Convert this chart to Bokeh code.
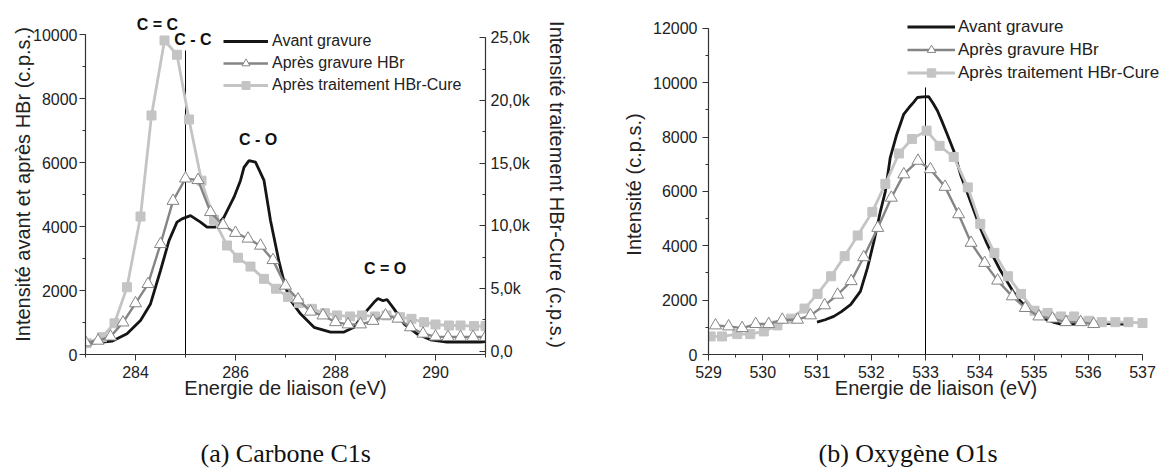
from bokeh.plotting import figure
from bokeh.layouts import row
from bokeh.models import (Range1d, LinearAxis, SingleIntervalTicker, Legend, LegendItem,
                          Label, Title, CustomJSTickFormatter)
from bokeh.embed import file_html
from bokeh.resources import INLINE

# ---------------- data: C1s ----------------
c1s_avant_x = [283.0, 283.25, 283.53, 283.83, 284.1, 284.3, 284.5, 284.67, 284.83, 284.93, 285.1,
               285.3, 285.43, 285.6, 285.77, 285.97, 286.1, 286.17, 286.27, 286.4, 286.57, 286.7,
               286.87, 287.0, 287.1, 287.3, 287.57, 287.9, 288.17, 288.37, 288.57, 288.77, 288.85,
               288.95, 289.03, 289.17, 289.37, 289.63, 289.9, 290.23, 290.63, 290.9, 291.0]
c1s_avant_y = [340, 370, 415, 645, 1060, 1580, 2625, 3560, 4135, 4240, 4340,
               4135, 3980, 3980, 4290, 4915, 5440, 5850, 6060, 6010, 5440, 4190,
               2900, 2100, 1700, 1270, 850, 700, 700, 850, 1270, 1630, 1750,
               1680, 1720, 1425, 960, 645, 460, 385, 385, 385, 400]

c1s_hbr_x = [283.0, 283.25, 283.5, 283.75, 284.0, 284.25, 284.5, 284.75, 285.0, 285.25, 285.5,
             285.75, 286.0, 286.25, 286.5, 286.75, 287.0, 287.25, 287.5, 287.75, 288.0, 288.25,
             288.5, 288.75, 289.0, 289.25, 289.5, 289.75, 290.0, 290.25, 290.5, 290.75, 291.0]
c1s_hbr_y = [380, 430, 560, 1000, 1600, 2200, 3450, 4800, 5500, 5450, 4450,
             4050, 3800, 3620, 3400, 2950, 2150, 1720, 1340, 1220, 1010, 940,
             940, 1050, 1220, 1120, 850, 650, 560, 545, 545, 545, 545]

c1s_cure_x = [283.02, 283.33, 283.58, 283.83, 284.1, 284.32, 284.58, 284.83, 285.07, 285.32, 285.57,
              285.83, 286.05, 286.3, 286.57, 286.81, 287.05, 287.27, 287.53, 287.79, 288.03, 288.29,
              288.53, 288.79, 289.02, 289.29, 289.52, 289.77, 290.0, 290.27, 290.5, 290.77, 291.0]
c1s_cure_y = [640, 1120, 2230, 5100, 10740, 18800, 24780, 23640, 18480, 13600, 10480,
              8430, 7450, 6750, 5770, 4980, 4330, 3850, 3380, 3030, 2850, 2770,
              2850, 2770, 2850, 2710, 2580, 2310, 2130, 2050, 2050, 2000, 2000]

c1s_ref_x = [285.0]
c1s_ref_top = [9500]

c1s_peak_labels = ["C = C", "C - C", "C - O", "C = O"]
c1s_peak_x = [284.44, 285.15, 286.45, 288.99]
c1s_peak_y = [10310, 9840, 6720, 2700]

# ---------------- data: O1s ----------------
o1s_avant_x = [531.0, 531.15, 531.31, 531.45, 531.62, 531.8, 531.93, 532.05, 532.17, 532.26, 532.35,
               532.47, 532.6, 532.7, 532.78, 532.85, 532.95, 533.06, 533.14, 533.22, 533.3, 533.4,
               533.52, 533.65, 533.8, 533.9, 534.01, 534.13, 534.26, 534.38, 534.5, 534.62, 534.75,
               534.87, 534.99, 535.12, 535.24, 535.37, 535.49, 535.62, 535.74, 535.86, 535.98,
               536.1, 536.23, 536.35, 536.47, 536.66]
o1s_avant_y = [1193, 1280, 1403, 1580, 1835, 2326, 3187, 4173, 5280, 6000, 7250,
               8100, 8850, 9100, 9280, 9460, 9480, 9490, 9250, 8970, 8600, 8110,
               7500, 6600, 5800, 5250, 4660, 4100, 3560, 3100, 2700, 2300, 1960,
               1720, 1530, 1380, 1280, 1180, 1120, 1100, 1120, 1150, 1160,
               1130, 1120, 1150, 1120, 1120]

o1s_hbr_x = [529.13, 529.37, 529.62, 529.87, 530.11, 530.36, 530.64, 530.88, 531.14, 531.38,
             531.63, 531.86, 532.12, 532.37, 532.6, 532.86, 533.09, 533.36, 533.61, 533.84,
             534.09, 534.33, 534.6, 534.84, 535.09, 535.34, 535.59, 535.86, 536.1]
o1s_hbr_y = [1070, 1034, 971, 1120, 1120, 1280, 1280, 1440, 1810, 2200,
             2700, 3580, 4660, 5770, 6630, 7130, 6820, 6170, 5160, 4110,
             3370, 2720, 2140, 1710, 1400, 1320, 1190, 1190, 1120]

o1s_cure_x = [529.04, 529.25, 529.53, 529.77, 530.02, 530.27, 530.52, 530.77, 531.01, 531.26, 531.51,
              531.75, 532.02, 532.26, 532.51, 532.75, 533.02, 533.26, 533.52, 533.78, 534.01, 534.27,
              534.52, 534.76, 535.01, 535.25, 535.5, 535.74, 536.01, 536.25, 536.5, 536.74, 537.0]
o1s_cure_y = [665, 665, 750, 750, 850, 1070, 1320, 1690, 2230, 2880, 3620,
              4380, 5250, 6280, 7400, 7930, 8240, 7680, 7270, 6150, 4810, 3740,
              2880, 2230, 1610, 1530, 1400, 1400, 1240, 1190, 1190, 1190, 1160]

o1s_ref_x = [533.0]
o1s_ref_top = [9830]

series_names = ["Avant gravure", "Après gravure HBr", "Après traitement HBr-Cure"]
captions = ["(a) Carbone C1s", "(b) Oxygène O1s"]
xlabel = "Energie de liaison (eV)"

# ---------------- styles ----------------
FONT = "Liberation Sans"
C_BLACK = "#151515"
C_GRAY = "#858585"
C_LIGHT = "#c4c4c4"
TXT = "#222222"

FIG_H = 472
TOP = 14
BOTTOM = 118


def style_axis(ax, tick_out=6, tick_in=0, minor_out=3, minor_in=0):
    ax.major_label_text_font = FONT
    ax.major_label_text_font_size = "16px"
    ax.major_label_text_color = TXT
    ax.axis_label_text_font = FONT
    ax.axis_label_text_font_size = "20px"
    ax.axis_label_text_font_style = "normal"
    ax.axis_label_text_color = TXT
    ax.axis_line_color = "#333333"
    ax.major_tick_line_color = "#333333"
    ax.minor_tick_line_color = "#333333"
    ax.axis_line_width = 1.2
    ax.major_tick_out = tick_out
    ax.major_tick_in = tick_in
    ax.minor_tick_out = minor_out
    ax.minor_tick_in = minor_in


def base_fig(width, xr, yr, bl, br):
    p = figure(width=width, height=FIG_H, x_range=xr, y_range=yr,
               output_backend="svg", toolbar_location=None,
               min_border_left=bl, min_border_right=br,
               min_border_top=TOP, min_border_bottom=BOTTOM)
    p.grid.visible = False
    p.outline_line_color = None
    p.background_fill_color = "white"
    p.border_fill_color = "white"
    return p


def add_caption(p, text, offset):
    # spacer between the x axis and the caption
    p.add_layout(Title(text=" ", text_font_size="10px", standoff=22), "below")
    p.add_layout(Title(text=text, align="left", offset=offset, text_font="Liberation Serif",
                       text_font_size="26px", text_font_style="normal", text_color="#111111",
                       standoff=0), "below")


# ================= Figure (a) C1s =================
p1 = base_fig(598, Range1d(283, 291), Range1d(0, 10625), 85, 113)
p1.extra_y_ranges = {"cure": Range1d(-263, 26850)}

p1.xaxis.ticker = SingleIntervalTicker(interval=2, num_minor_ticks=2)
p1.yaxis.ticker = SingleIntervalTicker(interval=2000, num_minor_ticks=2)
p1.yaxis.bounds = (0, 10000)
p1.xaxis.axis_label = xlabel
p1.yaxis.axis_label = "Intensité avant et après HBr (c.p.s.)"
style_axis(p1.xaxis[0])
style_axis(p1.yaxis[0])
p1.xaxis.major_label_standoff = 5
p1.xaxis.axis_label_standoff = -4
p1.yaxis.major_label_standoff = 2
p1.yaxis.axis_label_standoff = -4

rax = LinearAxis(y_range_name="cure", axis_label="Intensité traitement HBr-Cure (c.p.s.)",
                 ticker=SingleIntervalTicker(interval=5000, num_minor_ticks=2),
                 bounds=(-263, 25000))
rax.formatter = CustomJSTickFormatter(
    code="return tick == 0 ? '0,0' : (tick/1000).toFixed(1).replace('.', ',') + 'k';")
style_axis(rax, tick_out=0, tick_in=6, minor_out=0, minor_in=3)
rax.major_label_standoff = 5
rax.axis_label_standoff = 13
p1.add_layout(rax, "right")

p1.segment(x0=c1s_ref_x, y0=[0], x1=c1s_ref_x, y1=c1s_ref_top, line_color="black", line_width=1)

a_l = p1.line(c1s_avant_x, c1s_avant_y, line_color=C_BLACK, line_width=2.8)
c_l = p1.line(c1s_cure_x, c1s_cure_y, line_color=C_LIGHT, line_width=2.8, y_range_name="cure")
c_s = p1.scatter(c1s_cure_x, c1s_cure_y, marker="square", size=9, fill_color=C_LIGHT,
                 line_color=C_LIGHT, y_range_name="cure")
h_l = p1.line(c1s_hbr_x, c1s_hbr_y, line_color=C_GRAY, line_width=2.4)
h_s = p1.scatter(c1s_hbr_x, c1s_hbr_y, marker="triangle", size=12, fill_color="white",
                 line_color=C_GRAY, line_width=1)

for t, x, y in zip(c1s_peak_labels, c1s_peak_x, c1s_peak_y):
    p1.add_layout(Label(x=x, y=y, text=t, text_font=FONT, text_font_size="16px",
                        text_font_style="bold", text_color="#111111",
                        text_align="center", text_baseline="middle"))

leg1 = Legend(items=[LegendItem(label=series_names[0], renderers=[a_l]),
                     LegendItem(label=series_names[1], renderers=[h_l, h_s]),
                     LegendItem(label=series_names[2], renderers=[c_l, c_s])],
              location=(138, 259), glyph_width=45, glyph_height=20, label_height=20,
              label_standoff=4, spacing=2, padding=0, margin=0,
              label_text_font=FONT, label_text_font_size="16px", label_text_color=TXT,
              border_line_color=None, background_fill_alpha=0)
p1.add_layout(leg1)
add_caption(p1, captions[0], 115)

# ================= Figure (b) O1s =================
p2 = base_fig(565, Range1d(529, 537.387), Range1d(0, 12515), 110, 0)
p2.xaxis.ticker = SingleIntervalTicker(interval=1, num_minor_ticks=2)
p2.yaxis.ticker = SingleIntervalTicker(interval=2000, num_minor_ticks=2)
p2.xaxis.bounds = (529, 537)
p2.yaxis.bounds = (0, 12000)
p2.xaxis.axis_label = xlabel
p2.yaxis.axis_label = "Intensité (c.p.s.)"
style_axis(p2.xaxis[0])
style_axis(p2.yaxis[0])
p2.xaxis.major_label_standoff = 5
p2.xaxis.axis_label_standoff = -4
p2.yaxis.major_label_standoff = 5
p2.yaxis.axis_label_standoff = 5

p2.segment(x0=o1s_ref_x, y0=[0], x1=o1s_ref_x, y1=o1s_ref_top, line_color="black", line_width=1)

a2_l = p2.line(o1s_avant_x, o1s_avant_y, line_color=C_BLACK, line_width=2.8)
c2_l = p2.line(o1s_cure_x, o1s_cure_y, line_color=C_LIGHT, line_width=2.8)
c2_s = p2.scatter(o1s_cure_x, o1s_cure_y, marker="square", size=9, fill_color=C_LIGHT,
                  line_color=C_LIGHT)
h2_l = p2.line(o1s_hbr_x, o1s_hbr_y, line_color=C_GRAY, line_width=2.4)
h2_s = p2.scatter(o1s_hbr_x, o1s_hbr_y, marker="triangle", size=12, fill_color="white",
                  line_color=C_GRAY, line_width=1)

leg2 = Legend(items=[LegendItem(label=series_names[0], renderers=[a2_l]),
                     LegendItem(label=series_names[1], renderers=[h2_l, h2_s]),
                     LegendItem(label=series_names[2], renderers=[c2_l, c2_s])],
              location=(199, 271), glyph_width=48, glyph_height=21, label_height=21,
              label_standoff=3, spacing=2, padding=0, margin=0,
              label_text_font=FONT, label_text_font_size="17px", label_text_color=TXT,
              border_line_color=None, background_fill_alpha=0)
p2.add_layout(leg2)
add_caption(p2, captions[1], 110)

layout = row(p1, p2)
open("out.html", "w").write(file_html(layout, INLINE))
